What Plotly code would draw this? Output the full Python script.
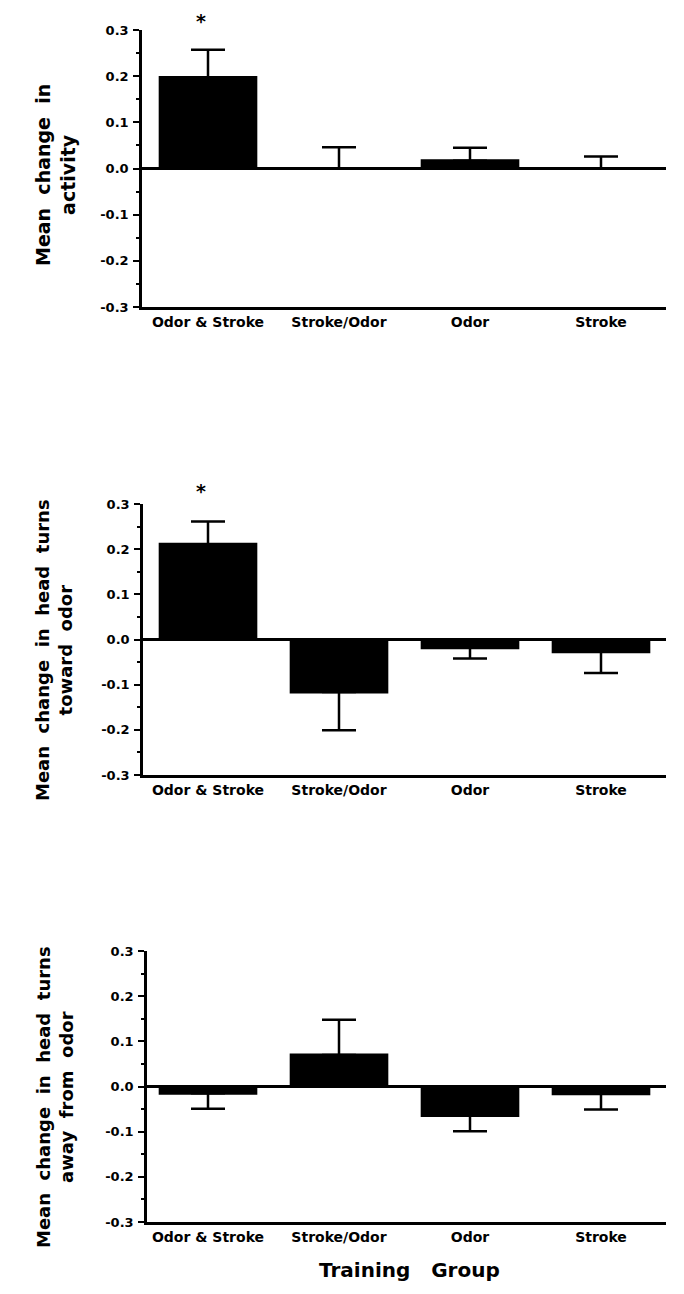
import plotly.graph_objects as go

# ---------------- data ----------------
categories = ["Odor & Stroke", "Stroke/Odor", "Odor", "Stroke"]

activity_mean = [0.197, 0.0, 0.017, 0.0]
activity_err = [0.060, 0.046, 0.028, 0.026]
activity_dir = [1, 1, 1, 1]          # 1 = error bar drawn upward, -1 = downward

toward_mean = [0.211, -0.116, -0.018, -0.027]
toward_err = [0.050, 0.085, 0.024, 0.047]
toward_dir = [1, -1, -1, -1]

away_mean = [-0.015, 0.070, -0.064, -0.016]
away_err = [0.034, 0.078, 0.035, 0.035]
away_dir = [-1, 1, -1, -1]

y_tickvals = [0.3, 0.2, 0.1, 0.0, -0.1, -0.2, -0.3]
y_ticktext = ["0.3", "0.2", "0.1", "0.0", "-0.1", "-0.2", "-0.3"]

panel_titles = [
    "Mean  change  in<br>activity",
    "Mean  change  in  head  turns<br>toward  odor",
    "Mean  change  in  head  turns<br>away  from  odor",
]
significant = [[True, False, False, False],
               [True, False, False, False],
               [False, False, False, False]]
x_title = "Training   Group"

# ---------------- layout constants (page pixels) ----------------
PAGE_W, PAGE_H = 684, 1294
OFF = 8                      # default body margin of the page
W, H = PAGE_W - OFF, PAGE_H - OFF
FONT = "DejaVu Sans"
panel_px = [(30, 307), (504, 775), (951, 1222)]   # page rows of 0.3 and -0.3
star_top_px = [8, 478, None]
x_left_px = [142, 143, 147]
x_right_px = 666
center0_px, spacing_px = 208, 131
title_x_px = [55, 54, 55]
title_y_px = [175, 650, 1097]
title_size = [19, 18, 18]


def px_x(p):
    return (p - OFF) / W


def px_y(p):
    return 1 - (p - OFF) / H


fig = go.Figure()

series = [(activity_mean, activity_err, activity_dir),
          (toward_mean, toward_err, toward_dir),
          (away_mean, away_err, away_dir)]

for i, (mean, err, direc) in enumerate(series):
    n = i + 1
    xa = "x" if n == 1 else f"x{n}"
    ya = "y" if n == 1 else f"y{n}"
    up = [e if d > 0 else 0 for e, d in zip(err, direc)]
    down = [e if d < 0 else 0 for e, d in zip(err, direc)]
    # error bars (carried by a transparent bar trace, drawn underneath)
    fig.add_trace(go.Bar(
        x=categories, y=mean, xaxis=xa, yaxis=ya,
        width=0.73, marker=dict(color="rgba(0,0,0,0)", line=dict(width=0)),
        error_y=dict(type="data", symmetric=False, array=up, arrayminus=down,
                     color="black", thickness=2.5, width=17),
        showlegend=False, hoverinfo="skip",
    ))
    # solid black bars on top
    fig.add_trace(go.Bar(
        x=categories, y=mean, xaxis=xa, yaxis=ya,
        width=0.73,
        marker=dict(color="black", line=dict(width=3, color="black")),
        showlegend=False,
    ))

    top, bot = panel_px[i]
    left = x_left_px[i]
    xr = [(left - center0_px) / spacing_px, (x_right_px - center0_px) / spacing_px]
    xaxis = dict(
        domain=[px_x(left), px_x(x_right_px)], anchor=ya, range=xr,
        showline=True, linecolor="black", linewidth=3,
        ticks="", showgrid=False, zeroline=False, automargin=False,
        tickfont=dict(family=FONT, size=14, color="black", weight="bold"),
        fixedrange=True,
    )
    yaxis = dict(
        domain=[px_y(bot), px_y(top)], anchor=xa, range=[-0.3, 0.3],
        tickmode="array", tickvals=y_tickvals, ticktext=y_ticktext,
        showline=True, linecolor="black", linewidth=2.5,
        ticks="outside", ticklen=6, tickwidth=2, tickcolor="black",
        minor=dict(tickmode="linear", tick0=-0.3, dtick=0.05,
                   ticks="outside", ticklen=3, tickwidth=2, tickcolor="black"),
        showgrid=False, automargin=False,
        zeroline=True, zerolinecolor="black", zerolinewidth=3,
        tickfont=dict(family=FONT, size=13, color="black", weight="bold"),
        ticklabelstandoff=2,
        fixedrange=True,
    )
    fig.layout["xaxis" if n == 1 else f"xaxis{n}"] = xaxis
    fig.layout["yaxis" if n == 1 else f"yaxis{n}"] = yaxis

    # y title (two lines, rotated)
    fig.add_annotation(
        text=panel_titles[i], textangle=-90,
        xref="paper", yref="paper",
        x=px_x(title_x_px[i]), y=px_y(title_y_px[i]),
        xanchor="center", yanchor="middle", showarrow=False,
        font=dict(family=FONT, size=title_size[i], color="black", weight="bold"),
        align="center",
    )
    # significance stars
    for c, sig in zip(categories, significant[i]):
        if sig:
            fig.add_annotation(
                text="*", x=c, y=px_y(star_top_px[i]), xref=xa, yref="paper",
                showarrow=False, xshift=-7,
                font=dict(family=FONT, size=19, color="black", weight="bold"),
                yanchor="top",
            )

fig.add_annotation(
    text=x_title, xref="paper", yref="paper",
    x=px_x(409), y=px_y(1270), xanchor="center", yanchor="middle",
    showarrow=False,
    font=dict(family=FONT, size=20, color="black", weight="bold"),
)

fig.update_layout(
    template="none",
    width=W, height=H,
    margin=dict(l=0, r=0, t=0, b=0, pad=0),
    paper_bgcolor="white", plot_bgcolor="white",
    barmode="overlay",
    showlegend=False,
)

fig.write_html("out.html", config={"displayModeBar": False})
